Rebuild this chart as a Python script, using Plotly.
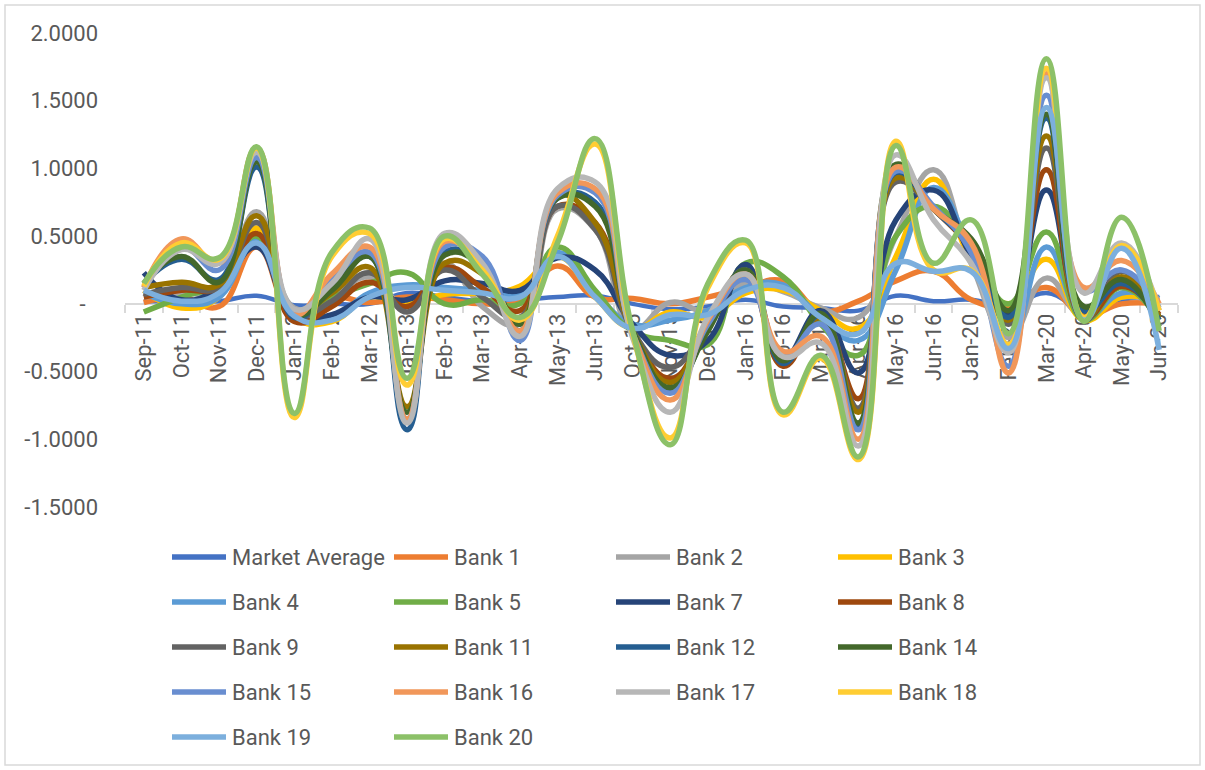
import plotly.graph_objects as go

# Period labels (category axis)
periods = ["Sep-11", "Oct-11", "Nov-11", "Dec-11", "Jan-12", "Feb-12", "Mar-12",
           "Jan-13", "Feb-13", "Mar-13", "Apr-13", "May-13", "Jun-13",
           "Oct-15", "Nov-15", "Dec-15", "Jan-16", "Feb-16", "Mar-16", "Apr-16",
           "May-16", "Jun-16", "Jan-20", "Feb-20", "Mar-20", "Apr-20", "May-20", "Jun-20"]

market_average = [0.02, 0.02, 0.02, 0.06, -0.01, 0.00, 0.00, 0.08, 0.05, 0.02, 0.03, 0.05, 0.06, 0.00,
                  -0.04, -0.02, 0.03, -0.02, -0.03, -0.05, 0.06, 0.02, 0.03, -0.02, 0.08, -0.04, 0.03, 0.05]
bank_1 = [0.01, 0.05, -0.02, 0.42, -0.10, 0.05, 0.01, 0.05, 0.03, 0.00, 0.02, 0.28, 0.05, 0.04,
          0.00, 0.05, 0.12, 0.17, -0.05, 0.02, 0.17, 0.24, 0.03, -0.02, 0.12, -0.08, 0.00, 0.00]
bank_2 = [0.05, 0.08, 0.10, 0.68, -0.03, 0.05, 0.20, -0.02, 0.30, -0.02, -0.15, 0.70, 0.55, -0.18,
          0.01, -0.05, 0.15, 0.09, -0.03, -0.10, 0.50, 0.99, 0.30, -0.25, 0.19, -0.10, 0.05, 0.00]
bank_3 = [0.10, -0.03, 0.05, 0.56, -0.10, -0.13, 0.05, 0.00, 0.07, 0.08, 0.13, 0.35, 0.05, -0.18,
          -0.06, -0.10, 0.08, 0.10, -0.05, -0.18, 0.35, 0.92, 0.32, 0.00, 0.33, -0.12, 0.05, 0.02]
bank_4 = [0.08, 0.00, 0.05, 0.48, -0.07, -0.10, 0.08, 0.14, 0.12, 0.10, 0.08, 0.38, 0.08, -0.15,
          -0.12, -0.05, 0.12, 0.14, -0.10, -0.27, 0.25, 0.86, 0.38, -0.30, 0.42, -0.10, 0.08, 0.04]
bank_5 = [-0.06, 0.05, 0.15, 0.50, -0.05, 0.05, 0.15, 0.23, 0.00, 0.03, 0.00, 0.42, 0.10, -0.20,
          -0.27, -0.30, 0.30, 0.20, -0.15, -0.38, 0.50, 0.72, 0.40, 0.00, 0.53, -0.12, 0.12, -0.12]
bank_7 = [0.23, 0.03, 0.12, 0.42, -0.10, -0.08, 0.05, 0.03, 0.17, 0.15, 0.10, 0.34, 0.25, -0.15,
          -0.38, -0.27, 0.29, -0.40, -0.05, -0.51, 0.62, 0.84, 0.35, -0.08, 0.84, -0.05, 0.14, -0.10]
bank_8 = [0.05, 0.10, 0.12, 0.52, -0.13, -0.02, 0.16, -0.02, 0.27, 0.12, -0.05, 0.72, 0.60, -0.20,
          -0.55, -0.18, 0.22, -0.46, -0.10, -0.70, 0.95, 0.70, 0.40, -0.12, 0.99, -0.10, 0.13, -0.08]
bank_9 = [0.07, 0.12, 0.12, 0.60, -0.08, 0.02, 0.23, -0.06, 0.25, 0.05, -0.10, 0.72, 0.55, -0.20,
          -0.47, -0.15, 0.22, -0.42, -0.08, -0.77, 0.90, 0.70, 0.43, -0.15, 1.15, -0.12, 0.24, -0.10]
bank_11 = [0.12, 0.16, 0.14, 0.65, -0.06, 0.08, 0.27, -0.76, 0.30, 0.22, -0.12, 0.80, 0.60, -0.20,
           -0.58, -0.15, 0.25, -0.42, -0.10, -0.80, 0.93, 0.70, 0.42, -0.12, 1.24, -0.10, 0.20, -0.10]
bank_12 = [0.15, 0.33, 0.18, 1.01, -0.10, 0.12, 0.35, -0.93, 0.38, 0.30, -0.20, 0.78, 0.75, -0.20,
           -0.65, -0.18, 0.25, -0.44, -0.08, -0.90, 0.97, 0.70, 0.42, -0.10, 1.37, -0.05, 0.15, -0.12]
bank_14 = [0.15, 0.35, 0.16, 1.05, -0.08, 0.10, 0.35, -0.80, 0.36, 0.28, -0.15, 0.78, 0.72, -0.20,
           -0.62, -0.20, 0.25, -0.42, -0.07, -0.88, 1.03, 0.70, 0.48, -0.05, 1.40, -0.02, 0.18, -0.17]
bank_15 = [0.12, 0.42, 0.25, 1.08, -0.06, 0.18, 0.38, -0.85, 0.42, 0.35, -0.27, 0.80, 0.82, -0.22,
           -0.66, -0.15, 0.18, -0.38, -0.15, -0.93, 0.98, 0.72, 0.38, -0.46, 1.54, 0.10, 0.25, -0.03]
bank_16 = [0.12, 0.48, 0.30, 1.15, -0.08, 0.22, 0.42, -0.85, 0.46, 0.28, -0.20, 0.82, 0.85, -0.22,
           -0.71, -0.12, 0.22, -0.35, -0.24, -1.00, 1.01, 0.70, 0.45, -0.51, 1.70, 0.12, 0.32, 0.00]
bank_17 = [0.10, 0.40, 0.30, 1.12, -0.04, 0.15, 0.48, -0.88, 0.52, 0.30, -0.24, 0.85, 0.90, -0.25,
           -0.80, -0.10, 0.22, -0.39, -0.29, -1.05, 1.10, 0.62, 0.30, -0.36, 1.67, 0.08, 0.45, -0.05]
bank_18 = [0.13, 0.45, 0.33, 1.15, -0.84, 0.35, 0.52, -0.60, 0.48, 0.25, -0.12, 0.50, 1.18, -0.22,
           -0.99, 0.12, 0.45, -0.82, -0.40, -1.15, 1.20, 0.25, 0.25, -0.30, 1.74, -0.10, 0.43, -0.05]
bank_19 = [0.10, 0.02, 0.08, 0.45, -0.09, -0.12, 0.05, 0.12, 0.10, 0.08, 0.05, 0.35, 0.05, -0.18,
           -0.08, -0.08, 0.10, 0.12, -0.10, -0.22, 0.30, 0.24, 0.24, -0.33, 1.45, -0.12, 0.41, -0.34]
bank_20 = [0.15, 0.42, 0.34, 1.16, -0.81, 0.38, 0.56, -0.55, 0.50, 0.22, -0.10, 0.45, 1.22, -0.20,
           -1.04, 0.15, 0.47, -0.80, -0.38, -1.13, 1.17, 0.30, 0.62, -0.22, 1.81, -0.13, 0.64, -0.20]

series_names = ["Market Average", "Bank 1", "Bank 2", "Bank 3", "Bank 4", "Bank 5", "Bank 7",
                "Bank 8", "Bank 9", "Bank 11", "Bank 12", "Bank 14", "Bank 15", "Bank 16",
                "Bank 17", "Bank 18", "Bank 19", "Bank 20"]
series_values = [market_average, bank_1, bank_2, bank_3, bank_4, bank_5, bank_7, bank_8, bank_9,
                 bank_11, bank_12, bank_14, bank_15, bank_16, bank_17, bank_18, bank_19, bank_20]
series_colors = ["#4472C4", "#ED7D31", "#A5A5A5", "#FFC000", "#5B9BD5", "#70AD47", "#264478",
                 "#9E480E", "#636363", "#997300", "#255E91", "#43682B", "#698ED0", "#F1975A",
                 "#B7B7B7", "#FFCD33", "#7CAFDD", "#8CC168"]

y_ticks = [-1.5, -1.0, -0.5, 0.0, 0.5, 1.0, 1.5, 2.0]
y_tick_text = ["-1.5000", "-1.0000", "-0.5000", "-\u2007", "0.5000", "1.0000", "1.5000", "2.0000"]

W, H = 1205, 770
L, R, T, B = 125, 27, 33, 263
PW, PH = W - L - R, H - T - B
TEXT = "#595959"
FONT = "Roboto"
FS = 22
Y_MIN, Y_MAX = -1.5, 2.0


def px_x(x):
    return (x - L) / PW


def px_y(y):
    return (H - B - y) / PH


fig = go.Figure()
for name, vals, col in zip(series_names, series_values, series_colors):
    fig.add_trace(go.Scatter(
        x=periods, y=vals, name=name, mode="lines",
        line=dict(color=col, width=4.5 if name == "Market Average" else 5.5,
                  shape="spline", smoothing=1.3),
        showlegend=False, hoverinfo="x+y+name",
    ))

shapes = []
annotations = []

# chart border
shapes.append(dict(type="rect", xref="paper", yref="paper",
                   x0=px_x(5), x1=px_x(1200), y0=px_y(765), y1=px_y(5),
                   line=dict(color="#D9D9D9", width=1.5), fillcolor="rgba(0,0,0,0)", layer="below"))

# legend: 4 columns, row-major order
col_x = [172, 394, 616, 838]
row_y = [557, 602, 647, 692, 737]
for i, (name, col) in enumerate(zip(series_names, series_colors)):
    r, c = divmod(i, 4)
    x0 = col_x[c]
    y0 = row_y[r]
    shapes.append(dict(type="line", xref="paper", yref="paper",
                       x0=px_x(x0), x1=px_x(x0 + 54), y0=px_y(y0), y1=px_y(y0),
                       line=dict(color=col, width=5.5)))
    annotations.append(dict(xref="paper", yref="paper", x=px_x(x0 + 58), y=px_y(y0),
                            text=name, showarrow=False, xanchor="left", yanchor="middle",
                            font=dict(family=FONT, size=FS, color=TEXT)))

fig.update_layout(
    width=W, height=H,
    margin=dict(l=L, r=R, t=T, b=B, pad=0),
    paper_bgcolor="white", plot_bgcolor="white",
    font=dict(family=FONT, size=FS, color=TEXT),
    shapes=shapes, annotations=annotations,
    showlegend=False,
    xaxis=dict(
        type="category", categoryorder="array", categoryarray=periods,
        range=[-0.5, len(periods) - 0.5],
        anchor="free", position=(0 - Y_MIN) / (Y_MAX - Y_MIN),
        showline=True, linecolor="#D9D9D9", linewidth=2,
        ticks="outside", tickson="boundaries", ticklen=8, tickwidth=2, tickcolor="#D9D9D9",
        tickangle=-90, tickfont=dict(family=FONT, size=FS, color=TEXT),
        showgrid=False, zeroline=False, layer="below traces",
        fixedrange=True,
    ),
    yaxis=dict(
        range=[Y_MIN, Y_MAX], tickvals=y_ticks, ticktext=y_tick_text,
        showline=False, showgrid=False, zeroline=False, ticks="",
        tickfont=dict(family=FONT, size=FS, color=TEXT),
        ticklabelstandoff=26, fixedrange=True,
    ),
)

fig.write_html("out.html")
